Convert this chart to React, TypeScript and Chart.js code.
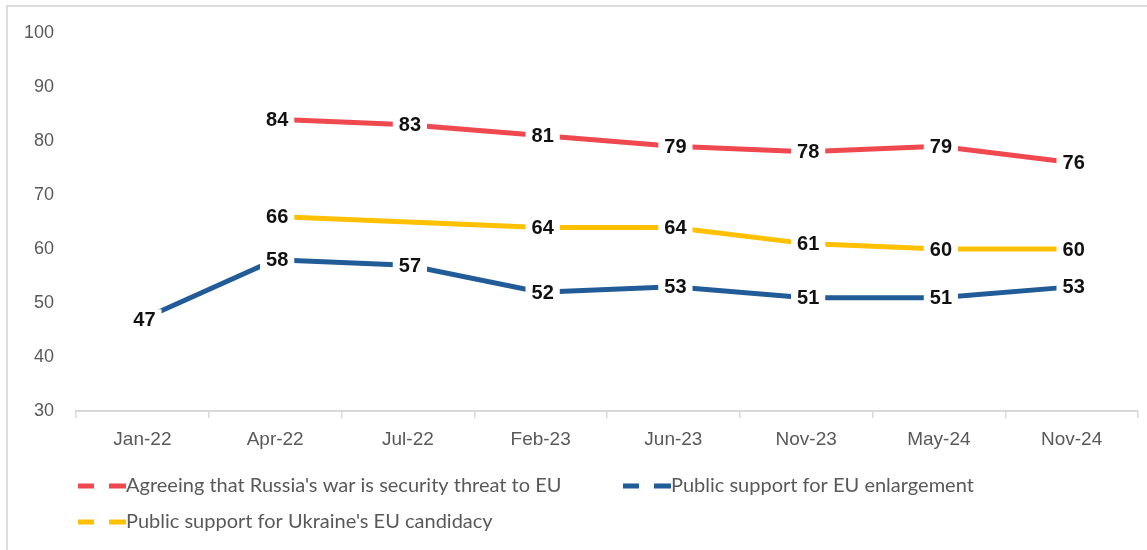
import React, { useEffect, useRef } from "react";
import { Chart, registerables } from "chart.js";

Chart.register(...registerables);

const categories = ["Jan-22", "Apr-22", "Jul-22", "Feb-23", "Jun-23", "Nov-23", "May-24", "Nov-24"];
const securityThreat = [null, 84, 83, 81, 79, 78, 79, 76];
const euEnlargement = [47, 58, 57, 52, 53, 51, 51, 53];
const ukraineCandidacy = [null, 66, null, 64, 64, 61, 60, 60];
const yTicks = [30, 40, 50, 60, 70, 80, 90, 100];

const seriesNames = [
  "Agreeing that Russia's war is security threat to EU",
  "Public support for EU enlargement",
  "Public support for Ukraine's EU candidacy",
];
const seriesColors = ["#F0484F", "#215C98", "#FFC000"];

const dataLabelPlugin = {
  id: "dataLabels",
  afterDatasetsDraw(chart: any) {
    const ctx = chart.ctx;
    ctx.save();
    ctx.font = "bold 20px 'Liberation Sans', Arial, sans-serif";
    ctx.textAlign = "center";
    ctx.textBaseline = "middle";
    chart.data.datasets.forEach((ds: any, i: number) => {
      const meta = chart.getDatasetMeta(i);
      meta.data.forEach((pt: any, j: number) => {
        const v = ds.data[j];
        if (v === null || v === undefined) return;
        const txt = String(v);
        const w = ctx.measureText(txt).width;
        const x = pt.x + 2;
        const y = pt.y + 1;
        ctx.fillStyle = "#ffffff";
        ctx.fillRect(x - w / 2 - 6, y - 11, w + 12, 22);
        ctx.fillStyle = "#111111";
        ctx.fillText(txt, x, y);
      });
    });
    ctx.restore();
  },
};

const legendPlugin = {
  id: "customLegend",
  afterDraw(chart: any, _args: any, opts: any) {
    const ctx = chart.ctx;
    const items = opts.items || [];
    ctx.save();
    ctx.font = "20px Lato, 'Liberation Sans', sans-serif";
    ctx.textBaseline = "middle";
    ctx.textAlign = "left";
    items.forEach((it: any) => {
      const ds = chart.data.datasets[it.index];
      ctx.fillStyle = ds.borderColor;
      ctx.fillRect(it.x, it.y - 2.5, 16, 5);
      ctx.fillRect(it.x + 31, it.y - 2.5, 17, 5);
      ctx.fillStyle = "#595959";
      ctx.fillText(ds.label, it.x + 48, it.y);
    });
    ctx.restore();
  },
};

export default function App() {
  const ref = useRef<HTMLCanvasElement | null>(null);
  useEffect(() => {
    if (!ref.current) return;
    const chart = new Chart(ref.current, {
      type: "line",
      data: {
        labels: categories,
        datasets: [
          {
            label: seriesNames[0],
            data: securityThreat,
            borderColor: seriesColors[0],
            backgroundColor: seriesColors[0],
            borderWidth: 5,
            pointRadius: 0,
            tension: 0,
            spanGaps: true,
          },
          {
            label: seriesNames[1],
            data: euEnlargement,
            borderColor: seriesColors[1],
            backgroundColor: seriesColors[1],
            borderWidth: 5,
            pointRadius: 0,
            tension: 0,
            spanGaps: true,
          },
          {
            label: seriesNames[2],
            data: ukraineCandidacy,
            borderColor: seriesColors[2],
            backgroundColor: seriesColors[2],
            borderWidth: 5,
            pointRadius: 0,
            tension: 0,
            spanGaps: true,
          },
        ],
      },
      options: {
        responsive: false,
        animation: false,
        layout: { padding: { left: 2, right: 9, top: 29, bottom: 89 } },
        plugins: {
          legend: { display: false },
          tooltip: { enabled: false },
          customLegend: {
            items: [
              { index: 0, x: 78, y: 486 },
              { index: 1, x: 623, y: 486 },
              { index: 2, x: 78, y: 522 },
            ],
          },
        } as any,
        scales: {
          x: {
            offset: true,
            grid: {
              offset: true,
              drawOnChartArea: false,
              drawTicks: true,
              tickLength: 7,
              color: "#d9d9d9",
              lineWidth: 1.5,
            },
            border: { display: true, color: "#d9d9d9", width: 2 },
            ticks: {
              color: "#595959",
              padding: 10,
              font: { family: "'Liberation Sans', Arial, sans-serif", size: 19 },
              maxRotation: 0,
            },
          },
          y: {
            min: 30,
            max: 100,
            afterBuildTicks: (axis: any) => {
              axis.ticks = yTicks.map((v) => ({ value: v }));
            },
            grid: { display: false, drawTicks: false },
            border: { display: false },
            ticks: {
              color: "#595959",
              padding: 22,
              font: { family: "'Liberation Sans', Arial, sans-serif", size: 18 },
            },
          },
        },
      },
      plugins: [dataLabelPlugin, legendPlugin],
    });
    return () => chart.destroy();
  }, []);

  return (
    <div style={{ position: "absolute", left: 0, top: 0, width: 1147, height: 550, background: "#fff" }}>
      <canvas ref={ref} width={1147} height={550} style={{ position: "absolute", left: 0, top: 0 }} />
      <div
        style={{
          position: "absolute",
          left: 6,
          top: 5,
          width: 1141,
          height: 545,
          borderLeft: "2px solid #dcdcdc",
          borderTop: "2px solid #dcdcdc",
          boxSizing: "border-box",
          pointerEvents: "none",
        }}
      />
    </div>
  );
}
